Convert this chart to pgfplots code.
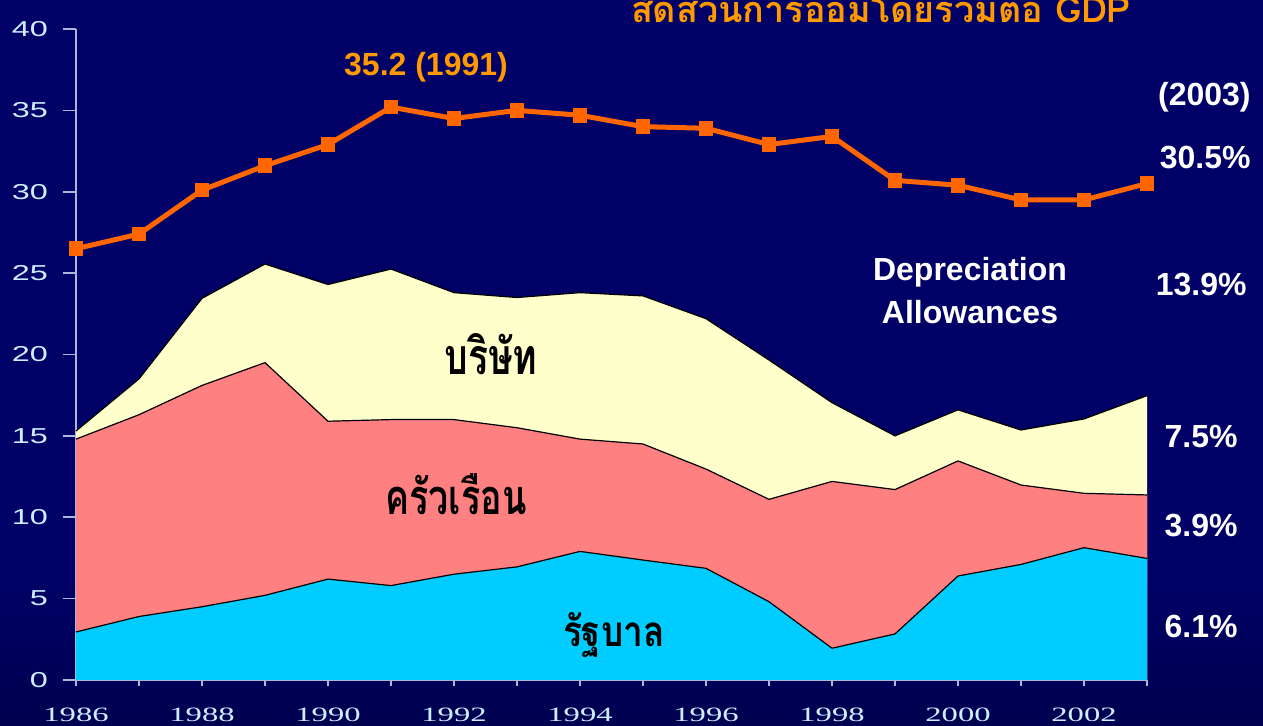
\documentclass[border=0pt]{standalone}
\usepackage{fontspec}
\usepackage{pgfplots}
\usepackage{pgfplotstable}
\pgfplotsset{compat=1.18}
\setmainfont{Liberation Sans}
\newfontfamily\thaifont[Script=Thai]{Loma}
\newfontfamily\timesf{Liberation Serif}
\newfontfamily\arialf{Liberation Sans}
\definecolor{bgtop}{HTML}{00003E}
\definecolor{bgmid}{HTML}{000066}
\definecolor{bgbot}{HTML}{00001A}
\definecolor{govc}{HTML}{00CCFF}
\definecolor{hhc}{HTML}{FF8080}
\definecolor{corpc}{HTML}{FFFFCC}
\definecolor{linec}{HTML}{FF6600}
\definecolor{titlec}{HTML}{FF9900}
\definecolor{axc}{HTML}{A8B8D8}
\definecolor{tickc}{HTML}{CCEEFF}
\pgfdeclareverticalshading{bgshade}{100bp}{color(0bp)=(bgbot); color(35bp)=(bgmid); color(85bp)=(bgmid); color(100bp)=(bgtop)}
% cumulative tops of the stacked areas and total savings line
\pgfplotstableread{
year gov hh corp total
1986 2.95 14.8 15.3 26.5
1987 3.9 16.3 18.5 27.4
1988 4.5 18.1 23.45 30.1
1989 5.2 19.5 25.56 31.6
1990 6.2 15.9 24.3 32.9
1991 5.8 16.0 25.25 35.2
1992 6.5 16.0 23.8 34.5
1993 6.95 15.5 23.5 35.0
1994 7.9 14.8 23.8 34.7
1995 7.37 14.5 23.6 34.0
1996 6.86 12.96 22.2 33.9
1997 4.81 11.1 19.66 32.9
1998 1.95 12.2 17.04 33.4
1999 2.83 11.7 15.0 30.7
2000 6.39 13.46 16.6 30.4
2001 7.1 11.98 15.36 29.5
2002 8.13 11.47 16.04 29.5
2003 7.47 11.37 17.47 30.5
}\data
\newcommand{\xl}[1]{\scalebox{1.6}[1]{\timesf\fontsize{10.2}{12}\selectfont #1}}
\newcommand{\yl}[1]{\scalebox{1.5}[1]{\arialf\fontsize{10.8}{12}\selectfont #1}}
\begin{document}
\begin{tikzpicture}
\path[use as bounding box] (0,0) rectangle (631.5pt,363pt);
\shade[shading=bgshade] (0,0) rectangle (631.5pt,363pt);
\begin{axis}[
  at={(38pt,23pt)}, anchor=south west,
  width=535.5pt, height=325.5pt, scale only axis,
  xmin=1986, xmax=2003, ymin=0, ymax=40,
  clip=false,
  axis x line*=bottom, axis y line*=left,
  axis line style={draw=axc, line width=0.8pt},
  tick align=outside,
  tick style={draw=axc, line width=0.8pt},
  major tick length=6.5pt, minor tick length=3pt,
  ytick={0,5,...,40},
  yticklabels={\yl{0},\yl{5},\yl{10},\yl{15},\yl{20},\yl{25},\yl{30},\yl{35},\yl{40}},
  xtick={1986,1988,...,2002},
  xticklabels={\xl{1986},\xl{1988},\xl{1990},\xl{1992},\xl{1994},\xl{1996},\xl{1998},\xl{2000},\xl{2002}},
  minor xtick={1987,1989,...,2003},
  xtick style={/pgfplots/major tick length=3pt},
  yticklabel style={text=tickc, xshift=-4pt},
  xticklabel style={text=tickc, yshift=-4pt},
]
\addplot[fill=corpc, draw=none] table[x=year,y=corp] {\data} \closedcycle;
\addplot[fill=hhc, draw=none] table[x=year,y=hh] {\data} \closedcycle;
\addplot[fill=govc, draw=none] table[x=year,y=gov] {\data} \closedcycle;
\addplot[black, line width=0.6pt] table[x=year,y=corp] {\data};
\addplot[black, line width=0.6pt] table[x=year,y=hh] {\data};
\addplot[black, line width=0.6pt] table[x=year,y=gov] {\data};
\addplot[linec, line width=2.5pt, mark=square*, mark size=3.4pt, mark options={fill=linec, draw=linec, line width=0pt}] table[x=year,y=total] {\data};
\end{axis}
\begin{scope}[x=0.5pt, y=0.5pt]
\node[anchor=base, text=titlec, inner sep=0pt] at (881,703) {\resizebox{250pt}{!}{\thaifont\bfseries สัดส่วนการออมโดยรวมต่อ GDP}};
\node[text=titlec, font=\bfseries\fontsize{16}{18}\selectfont, inner sep=0pt] at (426,659) {35.2 (1991)};
\node[anchor=east, text=white, font=\bfseries\fontsize{16}{18}\selectfont, inner sep=0pt] at (1251,629) {(2003)};
\node[anchor=east, text=white, font=\bfseries\fontsize{16}{18}\selectfont, inner sep=0pt] at (1251,568) {30.5\%};
\node[text=white, font=\bfseries\fontsize{16}{18}\selectfont, inner sep=0pt] at (970,454) {Depreciation};
\node[text=white, font=\bfseries\fontsize{16}{18}\selectfont, inner sep=0pt] at (970,414) {Allowances};
\node[anchor=east, text=white, font=\bfseries\fontsize{16}{18}\selectfont, inner sep=0pt] at (1247,441) {13.9\%};
\node[anchor=east, text=white, font=\bfseries\fontsize{16}{18}\selectfont, inner sep=0pt] at (1238,289) {7.5\%};
\node[anchor=east, text=white, font=\bfseries\fontsize{16}{18}\selectfont, inner sep=0pt] at (1238,200) {3.9\%};
\node[anchor=east, text=white, font=\bfseries\fontsize{16}{18}\selectfont, inner sep=0pt] at (1238,100) {6.1\%};
\node[anchor=base, inner sep=0pt] at (491,351) {\resizebox{46.5pt}{20.5pt}{\thaifont\bfseries บริษัท}};
\node[anchor=base, inner sep=0pt] at (456,211) {\resizebox{70.5pt}{20.5pt}{\thaifont\bfseries ครัวเรือน}};
\node[anchor=base, inner sep=0pt] at (614,79) {\resizebox{51pt}{17pt}{\thaifont\bfseries รัฐบาล}};
\end{scope}
\end{tikzpicture}
\end{document}
